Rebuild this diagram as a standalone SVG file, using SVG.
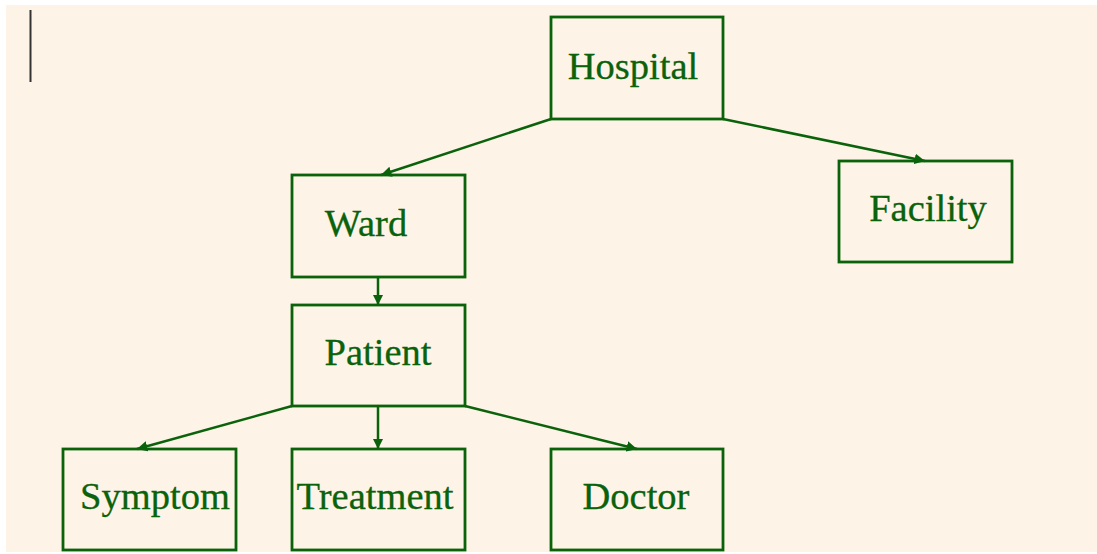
<svg xmlns="http://www.w3.org/2000/svg" width="1097" height="554" viewBox="0 0 1097 554">
  <style>
    .box { fill: none; stroke: #0a620a; stroke-width: 2.8; }
    .lbl { font-family: "Liberation Serif", "Times New Roman", serif; font-size: 38.5px; fill: #0a620a; stroke: #0a620a; stroke-width: 0.3; text-anchor: middle; }
    .edge { stroke: #0a620a; stroke-width: 2.5; fill: none; marker-end: url(#arrow); }
  </style>
  <defs>
    <marker id="arrow" viewBox="0 0 10 10" refX="10" refY="5" markerWidth="4.2" markerHeight="4.2" markerUnits="strokeWidth" orient="auto">
      <path d="M0,0 L10,5 L0,10 z" fill="#0a620a"/>
    </marker>
  </defs>
  <rect x="0" y="0" width="1097" height="554" fill="#ffffff"/>
  <rect x="6" y="5" width="1091" height="547" fill="#fdf3e7"/>
  <!-- cursor bar -->
  <line x1="30.5" y1="10" x2="30.5" y2="82" stroke="#333333" stroke-width="2"/>

  <g id="connectors">
    <line class="edge" x1="551" y1="119" x2="381" y2="175"/>
    <line class="edge" x1="723" y1="119" x2="925" y2="161"/>
    <line class="edge" x1="378" y1="277" x2="378" y2="305"/>
    <line class="edge" x1="292" y1="406" x2="137" y2="449"/>
    <line class="edge" x1="378" y1="406" x2="378" y2="449"/>
    <line class="edge" x1="465" y1="406" x2="637" y2="449"/>
  </g>

  <g id="hospital">
    <rect class="box" x="551" y="17" width="172" height="102"/>
    <text class="lbl" x="633" y="79">Hospital</text>
  </g>
  <g id="ward">
    <rect class="box" x="292" y="175" width="173" height="102"/>
    <text class="lbl" x="366" y="236">Ward</text>
  </g>
  <g id="facility">
    <rect class="box" x="839" y="161" width="173" height="101"/>
    <text class="lbl" x="928" y="221">Facility</text>
  </g>
  <g id="patient">
    <rect class="box" x="292" y="305" width="173" height="101"/>
    <text class="lbl" x="378" y="365">Patient</text>
  </g>
  <g id="symptom">
    <rect class="box" x="63" y="449" width="173" height="101"/>
    <text class="lbl" x="155" y="509">Symptom</text>
  </g>
  <g id="treatment">
    <rect class="box" x="292" y="449" width="173" height="101"/>
    <text class="lbl" x="375" y="509">Treatment</text>
  </g>
  <g id="doctor">
    <rect class="box" x="551" y="449" width="172" height="101"/>
    <text class="lbl" x="636" y="509">Doctor</text>
  </g>
</svg>
